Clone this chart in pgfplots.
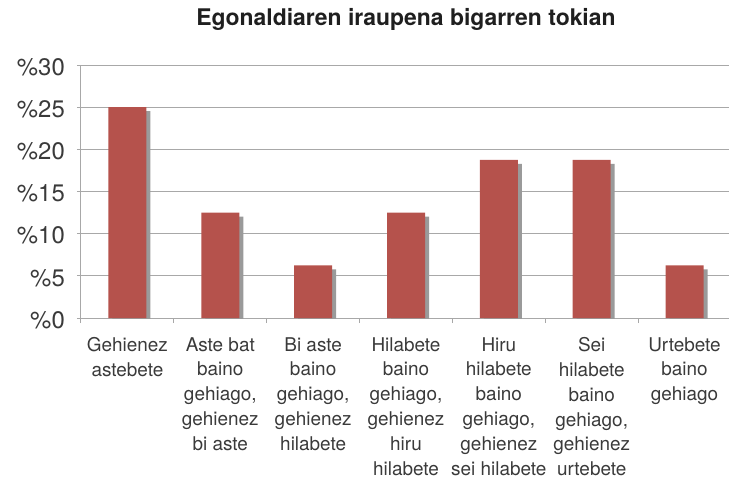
\documentclass[border=0pt]{standalone}
\usepackage{pgfplots}
\pgfplotsset{compat=1.18}
\usepackage{fontspec}
\setmainfont{TeX Gyre Heros}
\usetikzlibrary{shadows}
\definecolor{barred}{HTML}{B5524C}
\definecolor{shadowgray}{HTML}{9A9A9A}
\definecolor{gridgray}{HTML}{A8A8A8}
\definecolor{txt}{HTML}{3A3A3A}
\begin{document}
\begin{tikzpicture}
\useasboundingbox (-81bp,-161bp) rectangle (648bp,318bp);
\begin{axis}[
  scale only axis, width=650bp, height=253bp,
  xmin=-0.5, xmax=6.5, ymin=0, ymax=30,
  axis x line*=bottom, axis y line*=left,
  axis line style={gridgray, line width=1bp},
  ytick={0,5,...,30},
  yticklabel={\%\pgfmathprintnumber{\tick}},
  /pgf/number format/assume math mode=true,
  ymajorgrids, grid style={gridgray, line width=1bp},
  tick align=outside,
  major tick length=4bp, minor tick length=5bp,
  tick style={gridgray, line width=1bp},
  xtick={0,...,6},
  minor xtick={-0.5,0.5,...,6.5},
  major x tick style={draw=none},
  xticklabels={
    {Gehienez\\astebete},
    {Aste bat\\baino\\gehiago,\\gehienez\\bi aste},
    {Bi aste\\baino\\gehiago,\\gehienez\\hilabete},
    {Hilabete\\baino\\gehiago,\\gehienez\\hiru\\hilabete},
    {Hiru\\hilabete\\baino\\gehiago,\\gehienez\\sei hilabete},
    {Sei\\hilabete\\baino\\gehiago,\\gehienez\\urtebete},
    {Urtebete\\baino\\gehiago}},
  xticklabel style={align=center, anchor=north, inner sep=0pt, yshift=-15bp,
    font=\fontsize{19}{25}\selectfont, text=txt},
  yticklabel style={font=\fontsize{24}{26}\selectfont, text=txt, anchor=east, inner sep=0pt, xshift=-12bp, yshift=-2bp},
  title={Egonaldiaren iraupena bigarren tokian},
  title style={font=\bfseries\fontsize{23}{27}\selectfont, text=black!88, at={(0.5,1)}, anchor=base, yshift=34bp},
]
\addplot[ybar, bar width=38bp, fill=barred, draw=none,
  drop shadow={shadow xshift=4bp, shadow yshift=-4bp, opacity=1, fill=shadowgray}]
  coordinates {(0,25) (1,12.5) (2,6.25) (3,12.5) (4,18.75) (5,18.75) (6,6.25)};
\end{axis}
\end{tikzpicture}
\end{document}
